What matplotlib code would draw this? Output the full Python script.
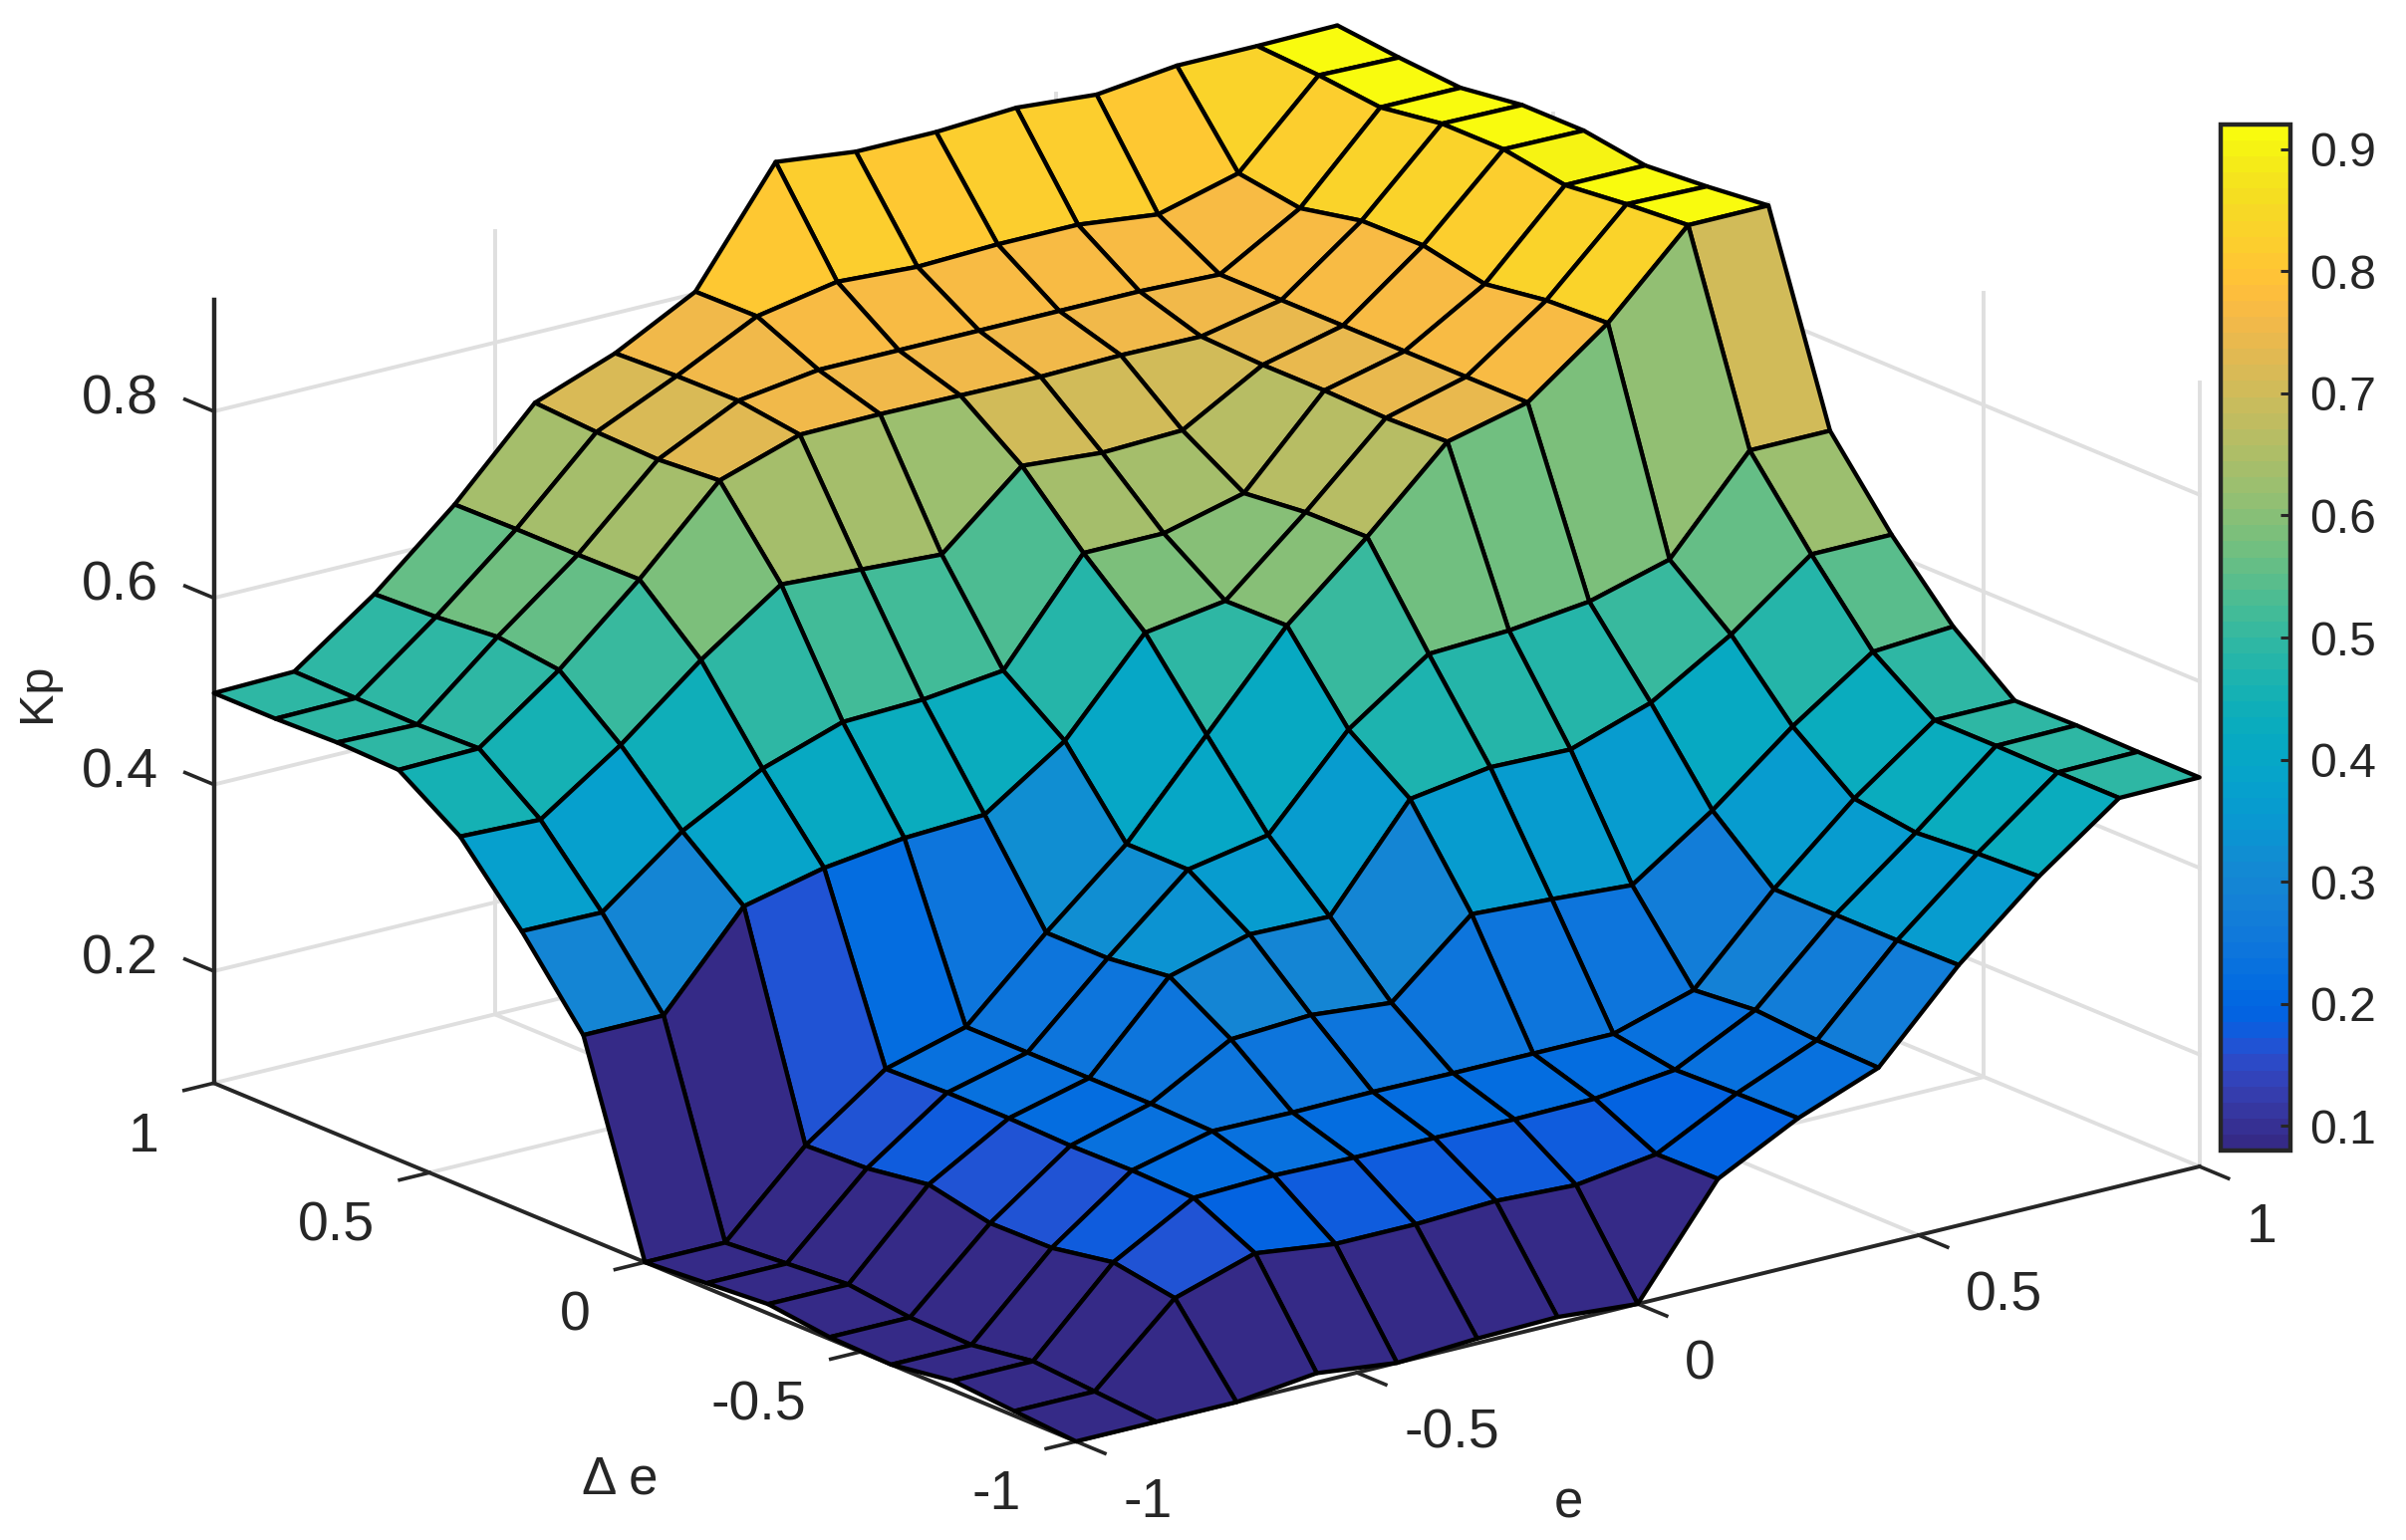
import matplotlib
matplotlib.use('Agg')
import matplotlib.pyplot as plt
import numpy as np
from matplotlib.colors import ListedColormap, Normalize
from matplotlib.cm import ScalarMappable
from mpl_toolkits.mplot3d import proj3d

plt.rcParams['font.family'] = ['Liberation Sans', 'DejaVu Sans']

W, H = 2415, 1546

e_values = np.linspace(-1, 1, 15)
de_values = np.linspace(-1, 1, 15)

# one row per e value, running along delta e
kp_values = [
    [.080, .085, .090, .080, .082, .090, .085, .080, .296, .380, .454, .498, .500, .498, .498],
    [.080, .085, .090, .080, .082, .090, .085, .080, .296, .379, .451, .500, .498, .499, .500],
    [.080, .164, .175, .163, .162, .176, .166, .163, .392, .445, .510, .563, .571, .565, .562],
    [.090, .191, .223, .225, .224, .226, .226, .224, .412, .491, .580, .639, .638, .638, .637],
    [.080, .180, .226, .246, .248, .248, .248, .248, .423, .520, .640, .724, .719, .721, .725],
    [.085, .180, .224, .245, .296, .336, .328, .328, .427, .523, .635, .752, .761, .760, .757],
    [.087, .184, .224, .246, .301, .360, .402, .402, .485, .533, .630, .753, .773, .803, .802],
    [.080, .180, .223, .245, .293, .358, .418, .498, .580, .638, .704, .752, .773, .819, .920],
    [.193, .192, .224, .245, .367, .463, .510, .594, .593, .638, .697, .751, .773, .814, .910],
    [.237, .236, .234, .245, .362, .476, .570, .668, .667, .660, .700, .753, .773, .817, .910],
    [.270, .272, .277, .271, .356, .474, .574, .749, .747, .749, .749, .752, .773, .817, .915],
    [.359, .358, .358, .358, .415, .503, .584, .770, .770, .770, .770, .770, .770, .807, .908],
    [.433, .430, .425, .434, .484, .555, .608, .834, .831, .821, .835, .834, .820, .830, .918],
    [.496, .496, .497, .497, .543, .620, .704, .918, .913, .906, .917, .917, .907, .914, .918],
    [.497, .497, .498, .497, .549, .620, .704, .918, .911, .906, .916, .916, .907, .912, .919],
]

xy_ticks = [-1, -0.5, 0, 0.5, 1]
xy_labels = ['-1', '-0.5', '0', '0.5', '1']
z_ticks = [0.2, 0.4, 0.6, 0.8]
z_labels = ['0.2', '0.4', '0.6', '0.8']
cbar_ticks = [0.1, 0.2, 0.3, 0.4, 0.5, 0.6, 0.7, 0.8, 0.9]
z_min, z_max = 0.08, 0.92

parula_colors = [
    [.2081, .1663, .5292], [.2116, .1898, .5777], [.2123, .2138, .6270], [.2081, .2386, .6771],
    [.1959, .2645, .7279], [.1707, .2919, .7792], [.1253, .3242, .8303], [.0591, .3598, .8683],
    [.0117, .3875, .8820], [.0060, .4086, .8828], [.0165, .4266, .8786], [.0329, .4430, .8720],
    [.0498, .4586, .8641], [.0629, .4737, .8554], [.0723, .4887, .8467], [.0779, .5040, .8384],
    [.0793, .5200, .8312], [.0749, .5375, .8263], [.0641, .5570, .8240], [.0488, .5772, .8228],
    [.0343, .5966, .8199], [.0265, .6137, .8135], [.0239, .6287, .8038], [.0231, .6418, .7913],
    [.0228, .6535, .7768], [.0267, .6642, .7607], [.0384, .6743, .7436], [.0590, .6838, .7254],
    [.0843, .6928, .7062], [.1133, .7015, .6859], [.1453, .7098, .6646], [.1801, .7177, .6424],
    [.2178, .7250, .6193], [.2586, .7317, .5954], [.3022, .7376, .5712], [.3482, .7424, .5473],
    [.3953, .7459, .5244], [.4420, .7481, .5033], [.4871, .7491, .4840], [.5300, .7491, .4661],
    [.5709, .7485, .4494], [.6099, .7473, .4337], [.6473, .7456, .4188], [.6834, .7435, .4044],
    [.7184, .7411, .3905], [.7525, .7384, .3768], [.7858, .7356, .3633], [.8185, .7327, .3498],
    [.8507, .7299, .3360], [.8824, .7274, .3217], [.9139, .7258, .3063], [.9450, .7261, .2886],
    [.9739, .7314, .2666], [.9938, .7455, .2403], [.9990, .7653, .2164], [.9955, .7861, .1967],
    [.9880, .8066, .1794], [.9789, .8271, .1633], [.9697, .8481, .1475], [.9626, .8705, .1309],
    [.9589, .8949, .1132], [.9598, .9218, .0948], [.9661, .9514, .0755], [.9763, .9831, .0538],
]
parula = ListedColormap(parula_colors)
norm = Normalize(z_min, z_max)

dark = '#262626'
grid_col = '#dfdfdf'

fig = plt.figure(figsize=(W / 100, H / 100), dpi=100)
side = 3200
ax = fig.add_axes([(W - side) / 2 / W, (H - side) / 2 / H, side / W, side / H],
                  projection='3d', computed_zorder=False, proj_type='ortho')
ax.view_init(elev=18.6, azim=-127.5)
ax.set_axis_off()

X, Y = np.meshgrid(e_values, de_values, indexing='ij')
Z = np.array(kp_values)
ax.plot_surface(X, Y, Z, rstride=1, cstride=1, facecolors=parula(norm(Z)), edgecolor='k',
                linewidth=3.1, shade=False, zorder=5)

# back walls and floor grid
for t in xy_ticks:
    ax.plot([t, t], [1, 1], [z_min, z_max], color=grid_col, lw=2.8, zorder=1)
    ax.plot([1, 1], [t, t], [z_min, z_max], color=grid_col, lw=2.8, zorder=1)
    ax.plot([t, t], [-1, 1], [z_min, z_min], color=grid_col, lw=2.8, zorder=1)
    ax.plot([-1, 1], [t, t], [z_min, z_min], color=grid_col, lw=2.8, zorder=1)
for t in z_ticks:
    ax.plot([-1, 1], [1, 1], [t, t], color=grid_col, lw=2.8, zorder=1)
    ax.plot([1, 1], [-1, 1], [t, t], color=grid_col, lw=2.8, zorder=1)

# axis lines and ticks
ax.plot([-1, 1], [-1, -1], [z_min, z_min], color=dark, lw=2.8, zorder=3)
ax.plot([-1, -1], [-1, 1], [z_min, z_min], color=dark, lw=2.8, zorder=3)
ax.plot([-1, -1], [1, 1], [z_min, z_max], color=dark, lw=3.2, zorder=3)
for t in xy_ticks:
    ax.plot([t, t], [-1, -1.067], [z_min, z_min], color=dark, lw=2.6, zorder=3)
    ax.plot([-1, -1.053], [t, t], [z_min, z_min], color=dark, lw=2.6, zorder=3)
for t in z_ticks:
    ax.plot([-1, -1], [1, 1.067], [t, t], color=dark, lw=2.6, zorder=3)

ax.set_xlim(-1, 1)
ax.set_ylim(-1, 1)
ax.set_zlim(z_min, z_max)


def to_px(x, y, z):
    xs, ys, _ = proj3d.proj_transform(x, y, z, ax.get_proj())
    return ax.transData.transform((xs, ys))


def label_at(x, y, z, s, ha, dx=0):
    px, py = to_px(x, y, z)
    fig.text((px + dx) / W, py / H, s, ha=ha, va='center', fontsize=40, color=dark)


# fit the box so that its corners land where the reference has them
ax.set_box_aspect((1, 1, 0.584))
ax.apply_aspect()
width = to_px(1, -1, z_min)[0] - to_px(-1, 1, z_min)[0]
ax.set_box_aspect((1, 1, 0.584), zoom=(2207 - 214) / width)
ax.apply_aspect()
off = np.array([1080, H - 1447]) - to_px(-1, -1, z_min)
p = ax.get_position(original=True)
ax.set_position([p.x0 + off[0] / W, p.y0 + off[1] / H, p.width, p.height])
ax.apply_aspect()

for t, s in zip(xy_ticks, xy_labels):
    label_at(t, -1.116, z_min - 0.0435, s, 'left', dx=-3)
    label_at(-1.092, t, z_min - 0.0445, s, 'right', dx=-3)
for t, s in zip(z_ticks, z_labels):
    label_at(-1, 1.118, t - 0.0105, s, 'right', dx=-5)

fig.text(38 / W, 1 - 695 / H, 'Kp', rotation=90, ha='center', va='center', fontsize=35, color=dark)
fig.text(622 / W, 1 - 1486 / H, 'Δ e', ha='center', va='center', fontsize=38, color=dark)
fig.text(1574 / W, 1 - 1509 / H, 'e', ha='center', va='center', fontsize=38, color=dark)

cax = fig.add_axes([2229 / W, 1 - 1155 / H, 70 / W, 1030 / H])
cb = fig.colorbar(ScalarMappable(norm=norm, cmap=parula), cax=cax, ticks=cbar_ticks)
cb.ax.tick_params(direction='in', length=7.2, width=2.2, color=dark, labelcolor=dark,
                  labelsize=34.7, pad=14)
cb.ax.set_yticklabels(['%.1f' % t for t in cbar_ticks])
cb.outline.set_edgecolor(dark)
cb.outline.set_linewidth(3.2)

fig.savefig('out.png', dpi=100)
